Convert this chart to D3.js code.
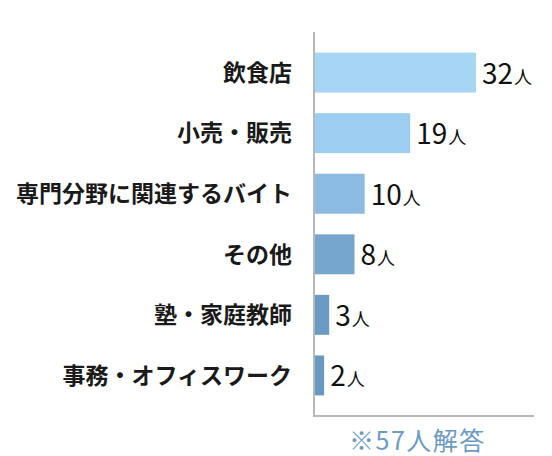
<!DOCTYPE html>
<html>
<head>
<meta charset="utf-8">
<script src="https://cdn.jsdelivr.net/npm/d3@7"></script>
<style>
  html, body { margin: 0; padding: 0; background: #fff; }
  svg { display: block; font-family: "Noto Sans CJK JP", "Noto Sans", sans-serif; }
</style>
</head>
<body>
<div id="chart"></div>
<script>
(function () {
    // data
    var categories = ['飲食店', '小売・販売', '専門分野に関連するバイト', 'その他', '塾・家庭教師', '事務・オフィスワーク'];
    var counts = [32, 19, 10, 8, 3, 2];
    var unit = '人';
    var note = '※57人解答';
    var barColors = ['#a7d5f5', '#9dcdf1', '#8cbbe2', '#76a6cd', '#6a9bc5', '#6899c3'];

    var w = 552;
    var h = 456;
    var axisX = 314;
    var axisTop = 32;
    var axisBottom = 416;

    var svg = d3.select('#chart')
        .append('svg')
            .attr('width', w)
            .attr('height', h);

    var x = d3.scaleLinear()
        .domain([0, 32])
        .range([axisX, axisX + 162]);

    var y = d3.scaleBand()
        .domain(categories)
        .range([axisTop, axisBottom])
        .paddingInner(0.34)
        .paddingOuter(0.34);

    var rows = categories.map(function (c, i) { return { cat: c, n: counts[i], color: barColors[i] }; });

    // bars
    svg.selectAll('rect.bar')
        .data(rows)
        .enter()
        .append('rect')
            .attr('class', 'bar')
            .attr('x', x(0))
            .attr('y', function (d) { return y(d.cat); })
            .attr('width', function (d) { return x(d.n) - x(0); })
            .attr('height', y.bandwidth())
            .style('fill', function (d) { return d.color; });

    // axis lines (left + bottom)
    svg.append('line')
        .attr('x1', axisX).attr('x2', axisX)
        .attr('y1', axisTop).attr('y2', axisBottom + 1)
        .style('stroke', '#b8b8b8')
        .style('stroke-width', 2);
    svg.append('line')
        .attr('x1', axisX - 1).attr('x2', 534)
        .attr('y1', axisBottom).attr('y2', axisBottom)
        .style('stroke', '#b8b8b8')
        .style('stroke-width', 2);

    // category labels
    svg.selectAll('text.cat')
        .data(rows)
        .enter()
        .append('text')
            .attr('class', 'cat')
            .attr('x', 292)
            .attr('y', function (d) { return y(d.cat) + y.bandwidth() / 2; })
            .attr('dy', '0.36em')
            .attr('text-anchor', 'end')
            .style('font-size', '23px')
            .style('font-weight', 700)
            .style('fill', '#1a1a1a')
            .text(function (d) { return d.cat; });

    // value labels
    var vals = svg.selectAll('text.val')
        .data(rows)
        .enter()
        .append('text')
            .attr('class', 'val')
            .attr('x', function (d) { return x(d.n) + 6; })
            .attr('y', function (d) { return y(d.cat) + y.bandwidth() / 2 + 11; })
            .style('fill', '#111');
    vals.append('tspan')
        .style('font-size', '28px')
        .text(function (d) { return d.n; });
    vals.append('tspan')
        .attr('dx', 1)
        .style('font-size', '18px')
        .text(unit);

    // note
    svg.append('text')
        .text(note)
        .attr('x', 349)
        .attr('y', 450)
        .style('font-size', '25px')
        .style('letter-spacing', '1.5px')
        .style('fill', '#6c9bc4');
})();
</script>
</body>
</html>
